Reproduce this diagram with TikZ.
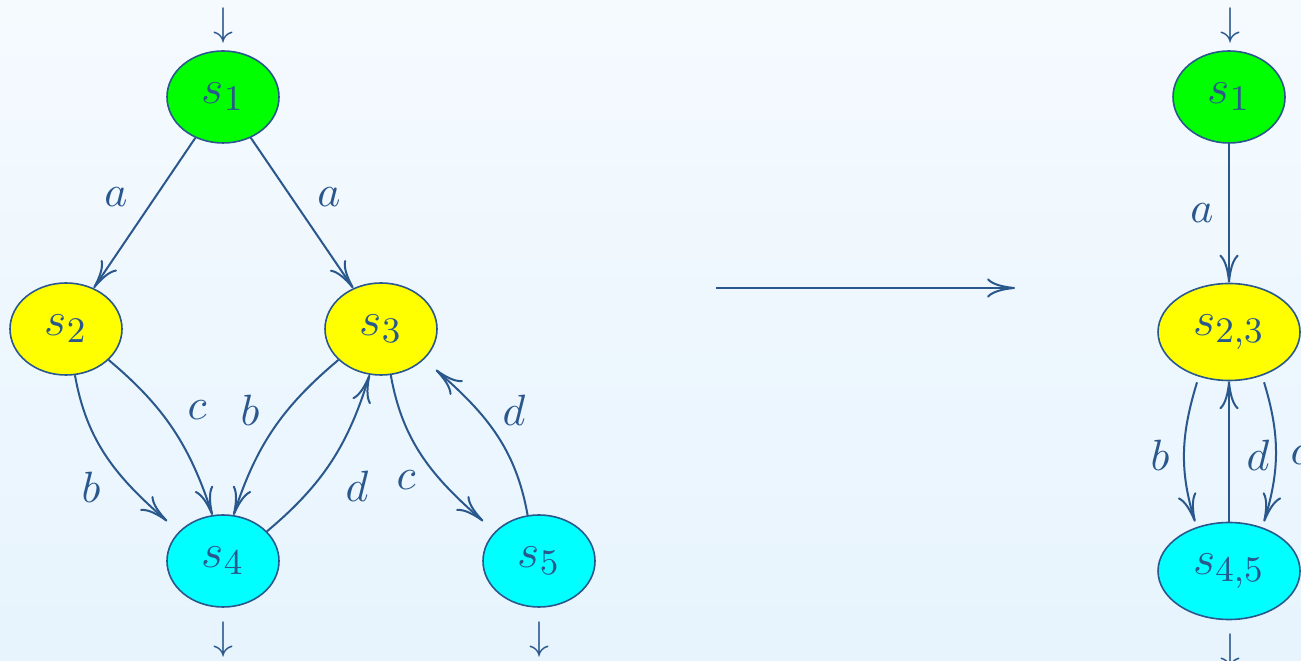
\documentclass[tikz,border=0pt]{standalone}
\usetikzlibrary{shapes.geometric,arrows.meta,calc}
\definecolor{ln}{RGB}{42,88,140}
\definecolor{bgtop}{RGB}{245,250,255}
\definecolor{bgbot}{RGB}{231,244,253}
\definecolor{cgreen}{RGB}{0,255,0}
\definecolor{cyellow}{RGB}{255,255,0}
\definecolor{ccyan}{RGB}{0,255,255}
\tikzset{
  st/.style={shape=ellipse, draw=ln, line width=0.4pt, text=ln, inner sep=0pt,
             minimum width=28pt, minimum height=23pt, font=\fontsize{13}{15}\selectfont},
  wide/.style={minimum width=35.5pt, minimum height=24.25pt},
  lbl/.style={text=ln, inner sep=0pt, font=\fontsize{10.95}{13}\selectfont},
  ioarr/.style={text=ln, inner sep=0pt, font=\normalsize},
  ed/.style={draw=ln, line width=0.5pt, -{To[length=7pt,width=4.8pt]}},
}
\begin{document}
\begin{tikzpicture}[x=0.25pt,y=0.25pt]
\clip (0,0) rectangle (1301,661);
\shade[top color=bgtop, bottom color=bgbot] (0,0) rectangle (1301,661);
% left automaton
\node[st, fill=cgreen]  (s1) at (223,564) {$s_1$};
\node[st, fill=cyellow] (s2) at (66,332)  {$s_2$};
\node[st, fill=cyellow] (s3) at (381,332) {$s_3$};
\node[st, fill=ccyan]   (s4) at (223,100) {$s_4$};
\node[st, fill=ccyan]   (s5) at (539,100) {$s_5$};
\node[ioarr] (i1) at (223,635) {$\downarrow$};
\node[ioarr] (f4) at (223,21)  {$\downarrow$};
\node[ioarr] (f5) at (539,21)  {$\downarrow$};
\draw[ed] (s1) -- (s2);
\draw[ed] (s1) -- (s3);
\draw[ed] (s2.-79) to[out=-80,in=139] ($(s4.west |- s4.north)+(1,-7)$);
\draw[ed] (s2.-36) to[out=-40,in=108] (s4.103);
\draw[ed] (s3.-144) to[out=-140,in=72] (s4.77);
\draw[ed] (s4.34) to[out=40,in=-107] (s3.-104);
\draw[ed] (s3.-78) to[out=-80,in=139] ($(s5.west |- s5.north)+(1,-7)$);
\draw[ed] (s5.104) to[out=100,in=-41] ($(s3.east |- s3.south)+(-2,6)$);
\node[lbl] (la1) at (116,464) {$a$};
\node[lbl] (la2) at (329,464) {$a$};
\node[lbl] (lc1) at (197,251) {$c$};
\node[lbl] (lb1) at (250,251) {$b$};
\node[lbl] (lb2) at (91,174)  {$b$};
\node[lbl] (ld1) at (357,175) {$d$};
\node[lbl] (lc2) at (406,181) {$c$};
\node[lbl] (ld2) at (514,251) {$d$};
% big arrow
\coordinate (ha) at (716,373);
\coordinate (hb) at (1015,373);
\draw[ed] (ha) -- (hb);
% right automaton
\node[st, fill=cgreen]        (r1)  at (1229,564) {$s_1$};
\node[st, wide, fill=cyellow] (r23) at (1229,329) {$s_{2,3}$};
\node[st, wide, fill=ccyan]   (r45) at (1229,90)  {$s_{4,5}$};
\node[ioarr] (ri) at (1230,635) {$\downarrow$};
\node[ioarr] (rf) at (1230,9)   {$\downarrow$};
\draw[ed] (r1) -- (r23);
\draw[ed] ($(r23.south)+(-32,-1)$) to[out=-107,in=107] ($(r45.north)+(-34,0)$);
\draw[ed] ($(r23.south)+(35,-1)$) to[out=-73,in=73] ($(r45.north)+(35,0)$);
\draw[ed] (r45) -- (r23);
\node[lbl] (ra)  at (1202,448) {$a$};
\node[lbl] (rb)  at (1160,206) {$b$};
\node[lbl] (rd)  at (1258,206) {$d$};
\node[lbl] (rc)  at (1300,206) {$c$};
\end{tikzpicture}
\end{document}
